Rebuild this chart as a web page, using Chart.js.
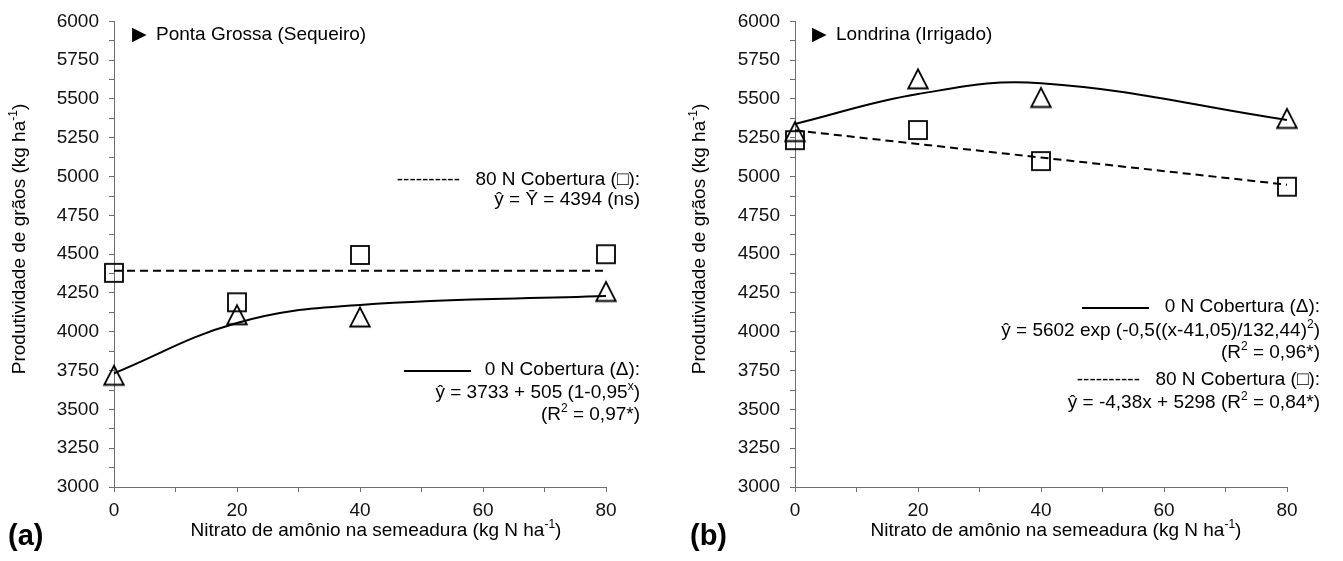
<!DOCTYPE html>
<html>
<head>
<meta charset="utf-8">
<script src="https://cdn.jsdelivr.net/npm/chart.js@4.4.1/dist/chart.umd.min.js"></script>
<style>
  html, body { margin: 0; padding: 0; background: #ffffff; }
  #wrap { position: relative; width: 1343px; height: 561px; overflow: hidden; background: #fff; }
  .box { position: absolute; top: 0; height: 561px; }
</style>
</head>
<body>
<div id="wrap">
  <div class="box" style="left:0px; width:681px;"><canvas id="chartA"></canvas></div>
  <div class="box" style="left:681px; width:662px;"><canvas id="chartB"></canvas></div>
</div>
<script>
// ---------------- DATA ----------------
const doses = [0, 20, 40, 80];                 // Nitrato de amônio na semeadura (kg N/ha)
const xMin = 0, xMax = 80, xStep = 10, xLabelStep = 20;
const yMin = 3000, yMax = 6000, yStep = 125, yLabelStep = 250;

// (a) Ponta Grossa (Sequeiro)
const pgObs80N = [4380, 4190, 4495, 4500];     // squares
const pgObs0N  = [3720, 4110, 4095, 4260];     // triangles
const pgFit80N = [4394, 4394, 4394, 4394];     // dashed
const pgFit0N  = [3733, 4057, 4173, 4230];     // solid

// (b) Londrina (Irrigado)
const ldObs80N = [5235, 5300, 5100, 4935];
const ldObs0N  = [5290, 5630, 5510, 5375];
const ldFit80N = [5298, 5210, 5123, 4948];
const ldFit0N  = [5339, 5532, 5602, 5365];

// ---------------- TEXTS ----------------
const xTitle = [{t: 'Nitrato de amônio na semeadura (kg N ha'}, {t: '-1', sup: true}, {t: ')'}];
const yTitle = [{t: 'Produtividade de grãos (kg ha'}, {t: '-1', sup: true}, {t: ')'}];

// ---------------- STYLE ----------------
const FONT = '"Liberation Sans", Arial, Helvetica, sans-serif';
const AXIS = '#6e6e6e';
const INK = '#000000';

function makeSquare() {
  const c = document.createElement('canvas');
  c.width = 24; c.height = 24;
  const g = c.getContext('2d');
  g.strokeStyle = INK; g.lineWidth = 1.8;
  g.strokeRect(3, 3, 18, 18);
  return c;
}
function makeTriangle() {
  const c = document.createElement('canvas');
  c.width = 26; c.height = 26;
  const g = c.getContext('2d');
  g.strokeStyle = INK; g.lineWidth = 1.8; g.lineJoin = 'miter';
  g.beginPath();
  g.moveTo(13, 3.5);
  g.lineTo(22.8, 22.5);
  g.lineTo(3.2, 22.5);
  g.closePath();
  g.stroke();
  return c;
}
const squareImg = makeSquare();
const triImg = makeTriangle();

function pts(ys) { return doses.map((x, i) => ({x: x, y: ys[i]})); }

function drawRich(ctx, segs, x, y, align, size, weight, family) {
  const fam = family || FONT;
  const fN = (weight ? weight + ' ' : '') + size + 'px ' + fam;
  const fS = Math.round(size * 0.62) + 'px ' + fam;
  let total = 0;
  const w = segs.map(s => { ctx.font = s.sup ? fS : fN; const m = ctx.measureText(s.t).width; total += m; return m; });
  let cx = align === 'right' ? x - total : (align === 'center' ? x - total / 2 : x);
  ctx.textAlign = 'left';
  ctx.textBaseline = 'middle';
  ctx.fillStyle = INK;
  segs.forEach((s, i) => {
    ctx.font = s.sup ? fS : fN;
    ctx.fillText(s.t, cx, s.sup ? y - size * 0.33 : y);
    cx += w[i];
  });
}

const annotPlugin = {
  id: 'annot',
  afterDraw(chart) {
    const items = chart.options.plugins.annot.items;
    const ctx = chart.ctx;
    ctx.save();
    items.forEach(it => {
      if (it.type === 'line') {
        ctx.strokeStyle = INK; ctx.lineWidth = 2;
        ctx.beginPath(); ctx.moveTo(it.x1, it.y); ctx.lineTo(it.x2, it.y); ctx.stroke();
      } else if (it.rotate) {
        ctx.save();
        ctx.translate(it.x, it.y);
        ctx.rotate(-Math.PI / 2);
        drawRich(ctx, it.segs, 0, 0, 'center', it.size || 19, it.weight, it.family);
        ctx.restore();
      } else {
        drawRich(ctx, it.segs, it.x, it.y, it.align || 'left', it.size || 19, it.weight, it.family);
      }
    });
    ctx.restore();
  }
};

function makeChart(id, obs80, obs0, fit80, fit0, padRight, items) {
  return new Chart(document.getElementById(id), {
    type: 'scatter',
    data: {
      datasets: [
        { data: pts(fit80), showLine: true, borderColor: INK, borderWidth: 2, borderDash: [8, 5],
          pointRadius: 0, tension: 0, clip: false },
        { data: pts(fit0), showLine: true, borderColor: INK, borderWidth: 2,
          pointRadius: 0, tension: 0.4, clip: false },
        { data: pts(obs80), showLine: false, pointStyle: squareImg, pointRadius: 10, clip: false },
        { data: pts(obs0), showLine: false, pointStyle: triImg, pointRadius: 10, clip: false }
      ]
    },
    options: {
      responsive: true,
      maintainAspectRatio: false,
      devicePixelRatio: 1,
      animation: false,
      events: [],
      layout: { padding: { left: 0, top: 18, right: padRight, bottom: 0 } },
      plugins: { legend: { display: false }, tooltip: { enabled: false }, title: { display: false },
                 annot: { items: items } },
      scales: {
        x: {
          type: 'linear', min: xMin, max: xMax,
          afterFit: s => { s.height = 74; },
          grid: { display: true, drawOnChartArea: false, drawTicks: true, tickLength: 5, color: AXIS, lineWidth: 1 },
          border: { display: true, color: AXIS, width: 1 },
          ticks: { stepSize: xStep, autoSkip: false, maxRotation: 0, padding: 7, color: '#111',
                   font: { family: FONT, size: 19 },
                   callback: v => (v % xLabelStep === 0 ? String(v) : '') }
        },
        y: {
          type: 'linear', min: yMin, max: yMax,
          afterFit: s => { s.width = 114; },
          grid: { display: true, drawOnChartArea: false, drawTicks: true, tickLength: 5, color: AXIS, lineWidth: 1 },
          border: { display: true, color: AXIS, width: 1 },
          ticks: { stepSize: yStep, autoSkip: false, padding: 10, color: '#111',
                   font: { family: FONT, size: 19 },
                   callback: v => (v % yLabelStep === 0 ? String(v) : '') }
        }
      }
    },
    plugins: [annotPlugin]
  });
}

const POINTER_FONT = '"DejaVu Sans", sans-serif';

const itemsA = [
  { segs: [{t: '▶'}], x: 132, y: 35, size: 19, family: POINTER_FONT },
  { segs: [{t: 'Ponta Grossa (Sequeiro)'}], x: 156, y: 35 },
  { segs: [{t: '----------'}], x: 460, y: 180, align: 'right' },
  { segs: [{t: '80 N Cobertura (□):'}], x: 640, y: 180, align: 'right' },
  { segs: [{t: 'ŷ = Ȳ = 4394 (ns)'}], x: 640, y: 200, align: 'right' },
  { type: 'line', x1: 404, x2: 471, y: 371 },
  { segs: [{t: '0 N Cobertura (Δ):'}], x: 640, y: 370, align: 'right' },
  { segs: [{t: 'ŷ = 3733 + 505 (1-0,95'}, {t: 'x', sup: true}, {t: ')'}], x: 640, y: 393, align: 'right' },
  { segs: [{t: '(R'}, {t: '2', sup: true}, {t: ' = 0,97*)'}], x: 640, y: 415, align: 'right' },
  { segs: [{t: '(a)'}], x: 8, y: 537, size: 29, weight: 'bold' },
  { segs: xTitle, x: 376, y: 531, align: 'center' },
  { segs: yTitle, x: 20, y: 239, rotate: true }
];

const itemsB = [
  { segs: [{t: '▶'}], x: 131, y: 35, size: 19, family: POINTER_FONT },
  { segs: [{t: 'Londrina (Irrigado)'}], x: 155, y: 35 },
  { type: 'line', x1: 401, x2: 468, y: 308 },
  { segs: [{t: '0 N Cobertura (Δ):'}], x: 639, y: 307, align: 'right' },
  { segs: [{t: 'ŷ = 5602 exp (-0,5((x-41,05)/132,44)'}, {t: '2', sup: true}, {t: ')'}], x: 639, y: 331, align: 'right' },
  { segs: [{t: '(R'}, {t: '2', sup: true}, {t: ' = 0,96*)'}], x: 639, y: 353, align: 'right' },
  { segs: [{t: '----------'}], x: 459, y: 380, align: 'right' },
  { segs: [{t: '80 N Cobertura (□):'}], x: 639, y: 380, align: 'right' },
  { segs: [{t: 'ŷ = -4,38x + 5298 (R'}, {t: '2', sup: true}, {t: ' = 0,84*)'}], x: 639, y: 403, align: 'right' },
  { segs: [{t: '(b)'}], x: 9, y: 537, size: 29, weight: 'bold' },
  { segs: xTitle, x: 375, y: 531, align: 'center' },
  { segs: yTitle, x: 19, y: 239, rotate: true }
];

makeChart('chartA', pgObs80N, pgObs0N, pgFit80N, pgFit0N, 75, itemsA);
makeChart('chartB', ldObs80N, ldObs0N, ldFit80N, ldFit0N, 56, itemsB);
</script>
</body>
</html>
